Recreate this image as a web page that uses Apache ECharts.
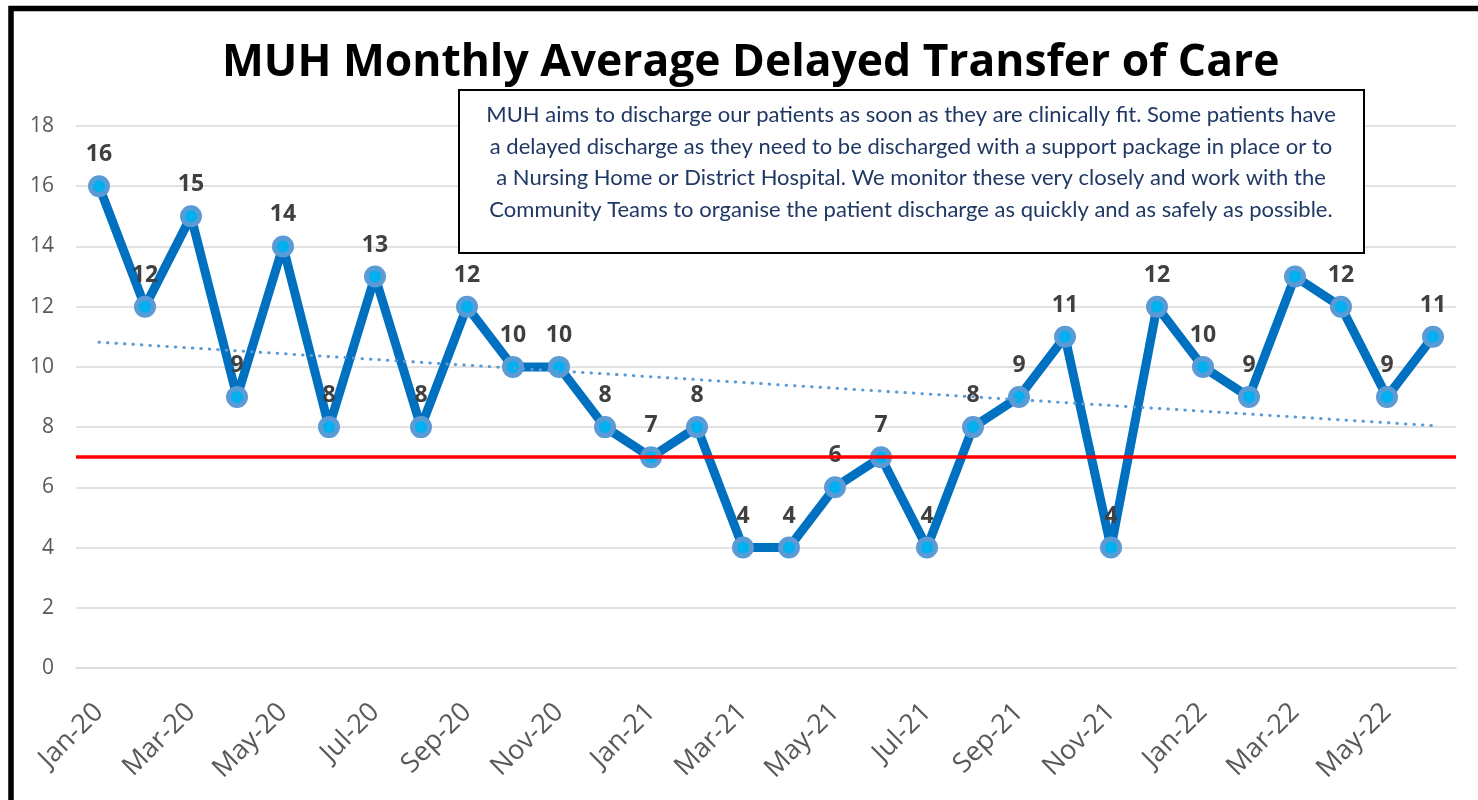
<!DOCTYPE html>
<html>
<head>
<meta charset="utf-8">
<script src="https://cdn.jsdelivr.net/npm/echarts@6/dist/echarts.min.js"></script>
<style>html,body{margin:0;padding:0;background:#fff;}#c{width:1478px;height:800px;}</style>
</head>
<body>
<div id="c"></div>
<script>
const months = ['Jan-20','Feb-20','Mar-20','Apr-20','May-20','Jun-20','Jul-20','Aug-20','Sep-20','Oct-20','Nov-20','Dec-20',
  'Jan-21','Feb-21','Mar-21','Apr-21','May-21','Jun-21','Jul-21','Aug-21','Sep-21','Oct-21','Nov-21','Dec-21',
  'Jan-22','Feb-22','Mar-22','Apr-22','May-22','Jun-22'];
const delayed = [16,12,15,9,14,8,13,8,12,10,10,8,7,8,4,4,6,7,4,8,9,11,4,12,10,9,13,12,9,11];
const trendStart = ['Jan-20', 10.82];
const trendEnd = ['Jun-22', 8.05];
const targetLine = 7;
const titleText = 'MUH Monthly Average Delayed Transfer of Care';
const noteText = 'MUH aims to discharge our patients as soon as they are clinically fit. Some patients have\n' +
  'a delayed discharge as they need to be discharged with a support package in place or to\n' +
  'a Nursing Home or District Hospital. We monitor these very closely and work with the\n' +
  'Community Teams to organise the patient discharge as quickly and as safely as possible.';

const chart = echarts.init(document.getElementById('c'), null, {renderer:'canvas'});
const FONT = '"Open Sans"';
chart.setOption({
  animation: false,
  backgroundColor: '#fff',
  title: {
    text: titleText, left: 217, top: 36,
    textStyle: {fontFamily: FONT, fontWeight: 'bold', fontSize: 44.4, color: '#000'}
  },
  grid: {left: 76, right: 22, top: 126, bottom: 132},
  xAxis: {
    type: 'category', data: months, boundaryGap: true,
    axisLine: {lineStyle: {color: '#D9D9D9', width: 1.5}},
    axisTick: {interval: 1, length: 8, lineStyle: {color: '#D9D9D9', width: 1.5}},
    axisLabel: {interval: 1, rotate: 45, margin: 40, fontFamily: FONT, fontSize: 27, color: '#595959'},
    splitLine: {show: false}
  },
  yAxis: {
    type: 'value', min: 0, max: 18, interval: 2,
    axisLine: {show: false}, axisTick: {show: false},
    axisLabel: {margin: 22, fontFamily: FONT, fontSize: 21, color: '#595959'},
    splitLine: {lineStyle: {color: '#D9D9D9', width: 1.5}}
  },
  series: [
    {
      type: 'line', data: delayed, z: 2,
      lineStyle: {color: '#0070C0', width: 9},
      symbol: 'circle', symbolSize: 17,
      itemStyle: {color: '#00B0F0', borderColor: '#5B9BD5', borderWidth: 5},
      label: {show: true, position: 'top', distance: 9, fontFamily: FONT, fontWeight: 'bold', fontSize: 23, color: '#404040'}
    },
    {
      type: 'line', data: [trendStart, trendEnd], z: 3, symbol: 'none',
      lineStyle: {color: '#5B9BD5', width: 3, type: [0.5, 8], cap: 'round'},
      markLine: {
        silent: true, symbol: 'none', label: {show: false},
        lineStyle: {color: '#FF0000', width: 3.5, type: 'solid'},
        data: [{yAxis: targetLine}]
      }
    }
  ],
  graphic: [
    {type: 'rect', z: 100, shape: {x: 11, y: 8.5, width: 1500, height: 900},
      style: {fill: 'none', stroke: '#000', lineWidth: 5.5}},
    {type: 'rect', z: 100, shape: {x: 459, y: 90, width: 905, height: 163},
      style: {fill: '#fff', stroke: '#000', lineWidth: 2}},
    {type: 'text', z: 101, x: 911, y: 99,
      style: {text: noteText, textAlign: 'center', textVerticalAlign: 'top', fontFamily: 'Lato', fontSize: 22,
        lineHeight: 31.7, fill: '#1F3864'}}
  ]
});
</script>
</body>
</html>
